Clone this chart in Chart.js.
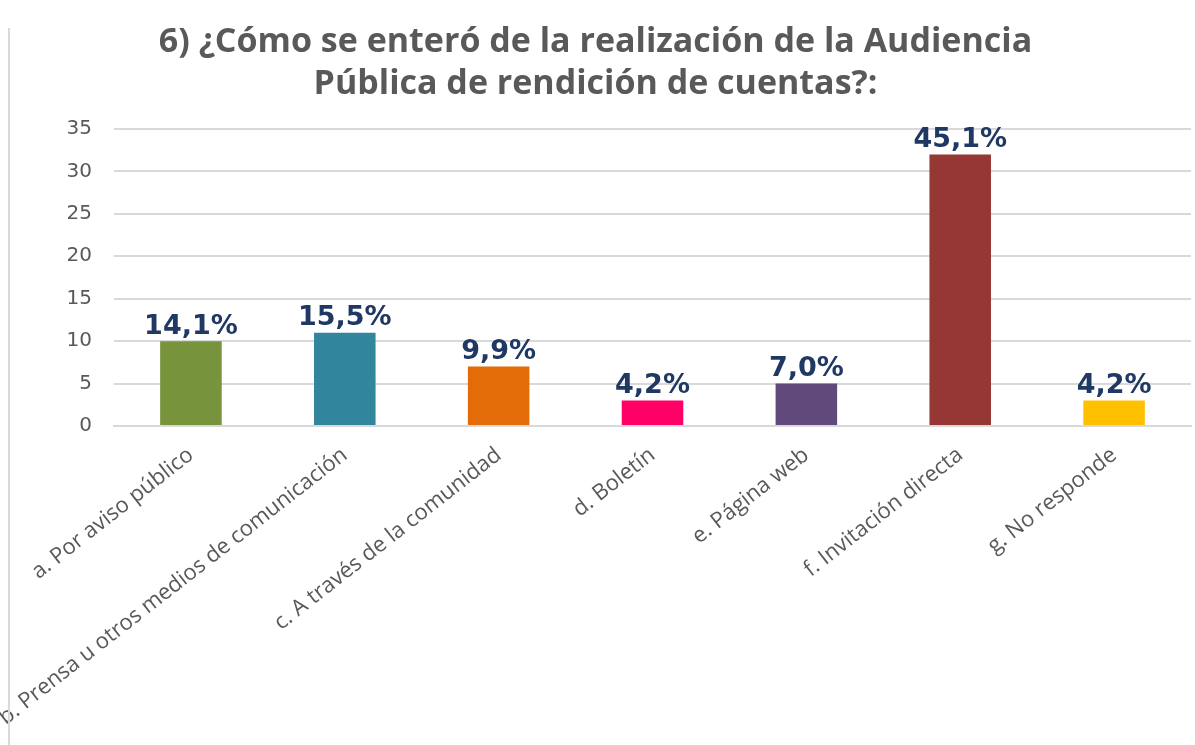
<!DOCTYPE html>
<html>
<head>
<meta charset="utf-8">
<script src="https://cdn.jsdelivr.net/npm/chart.js@4/dist/chart.umd.min.js"></script>
<style>
  html, body { margin: 0; padding: 0; background: #fff; }
  #wrap { position: relative; width: 1195px; height: 745px; }
  #edge { position: absolute; left: 8px; top: 28px; bottom: 0; border-left: 2px solid #d9d9d9; }
</style>
</head>
<body>
<div id="wrap">
  <div id="edge"></div>
  <canvas id="graphs" width="1195" height="745"></canvas>
</div>
<script>
const categories = [
    'a. Por aviso público',
    'b. Prensa u otros medios de comunicación',
    'c. A través de la comunidad',
    'd. Boletín',
    'e. Página web',
    'f. Invitación directa',
    'g. No responde'
];
const counts = [10, 11, 7, 3, 5, 32, 3];
const percentLabels = ['14,1%', '15,5%', '9,9%', '4,2%', '7,0%', '45,1%', '4,2%'];
const barColors = ['#77933C', '#31859C', '#E36C09', '#FF0066', '#604A7B', '#953735', '#FFC000'];

// draws the percentage above each bar
const barLabels = {
    id: 'barLabels',
    afterDatasetsDraw(chart) {
        const ctx = chart.ctx;
        const meta = chart.getDatasetMeta(0);
        ctx.save();
        ctx.font = 'bold 27px "DejaVu Sans", sans-serif';
        ctx.fillStyle = '#1F3864';
        ctx.textAlign = 'center';
        ctx.textBaseline = 'bottom';
        meta.data.forEach(function (bar, i) {
            ctx.fillText(percentLabels[i], bar.x, bar.y - 1);
        });
        ctx.restore();
    }
};

function initChart(id) {
    const ctx = document.getElementById(id).getContext('2d');

    new Chart(ctx, {
        type: 'bar',
        data: {
            labels: categories,
            datasets: [{
                data: counts,
                backgroundColor: barColors,
                categoryPercentage: 1,
                barPercentage: 0.4,
            }],
        },
        options: {
            responsive: false,
            animation: false,
            layout: {
                padding: { left: 0, right: 4, top: 0, bottom: 0 }
            },
            plugins: {
                legend: { display: false },
                tooltip: { enabled: false },
                title: {
                    display: true,
                    text: ['6) ¿Cómo se enteró de la realización de la Audiencia', 'Pública de rendición de cuentas?:'],
                    color: '#595959',
                    font: { family: '"Open Sans", sans-serif', size: 34, weight: 'bold', lineHeight: 1.22 },
                    padding: { top: 22, bottom: 24 },
                },
            },
            scales: {
                y: {
                    min: 0,
                    max: 35,
                    border: { display: false },
                    grid: {
                        color: '#d9d9d9',
                        lineWidth: 2,
                        drawTicks: false,
                    },
                    ticks: {
                        stepSize: 5,
                        color: '#595959',
                        font: { family: '"DejaVu Sans", sans-serif', size: 20 },
                        padding: 22,
                    },
                    afterFit(scale) {
                        scale.width = 114;
                    },
                },
                x: {
                    border: { color: '#d9d9d9', width: 2 },
                    grid: { display: false },
                    ticks: {
                        color: '#595959',
                        font: { family: '"Open Sans", sans-serif', size: 22 },
                        minRotation: 38,
                        maxRotation: 38,
                        padding: 8,
                    },
                    afterFit(scale) {
                        scale.height = 319;
                    },
                },
            },
        },
        plugins: [barLabels],
    });
}

initChart('graphs');
</script>
</body>
</html>
